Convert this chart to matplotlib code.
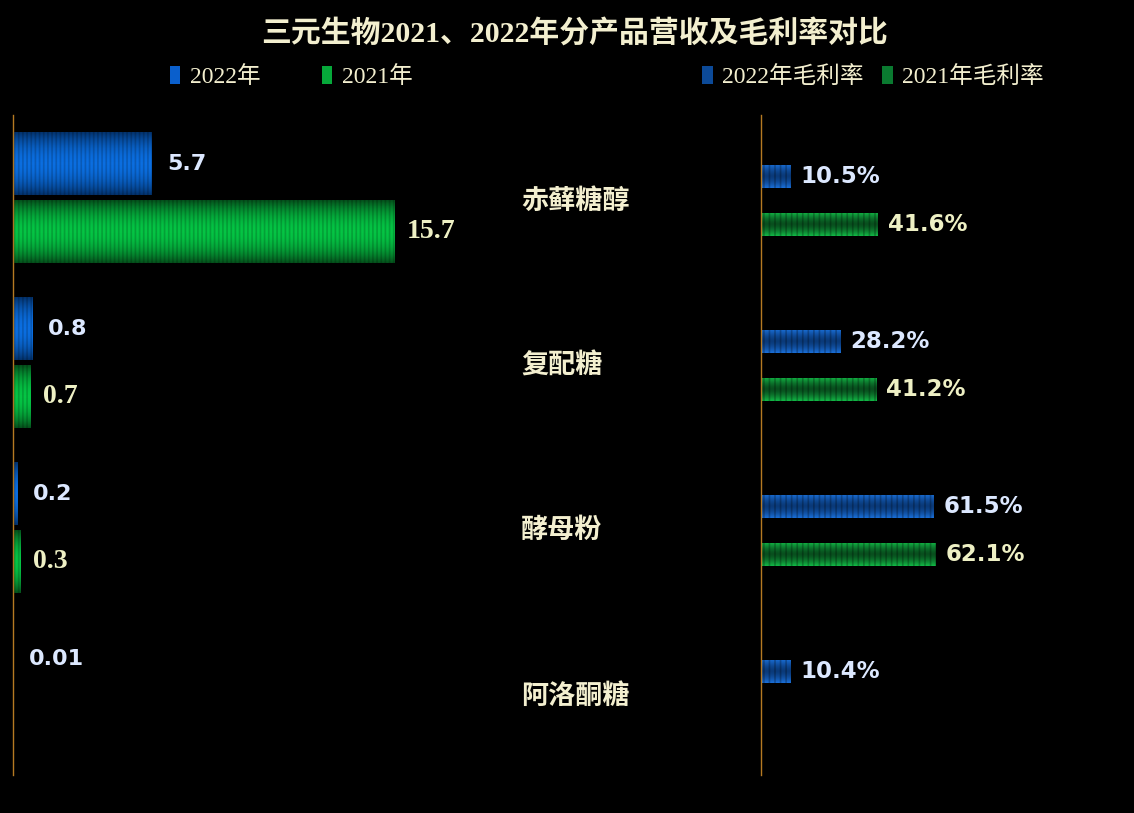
import numpy as np
import matplotlib
matplotlib.use("Agg")
import matplotlib.pyplot as plt
import matplotlib.transforms as mtransforms
from matplotlib.patches import Patch
from matplotlib.colors import LinearSegmentedColormap

# data
products = ["赤藓糖醇", "复配糖", "酵母粉", "阿洛酮糖"]
revenue_2022 = [5.7, 0.8, 0.2, 0.01]
revenue_2021 = [15.7, 0.7, 0.3, np.nan]
margin_2022 = [10.5, 28.2, 61.5, 10.4]
margin_2021 = [41.6, 41.2, 62.1, np.nan]

SERIF = ["Liberation Serif", "Noto Sans CJK SC", "DejaVu Sans"]
SANS = ["DejaVu Sans", "Noto Sans CJK SC"]
CREAM = "#f3efcf"
LABEL_BLUE = "#dce8ff"
LABEL_YELLOW = "#eef0c4"
AXIS_LINE = "#b57a22"

W, H = 1134, 813
fig = plt.figure(figsize=(W / 100, H / 100), dpi=100, facecolor="black")

ax_l = fig.add_axes([13 / W, 38 / H, 480 / W, 660 / H], facecolor="black")
ax_r = fig.add_axes([761 / W, 38 / H, 373 / W, 660 / H], facecolor="black")

y = np.arange(len(products))


def shade(ax, bars, edge, mid, bright_mid=True):
    # vertical gradient inside each bar, clipped to the bar
    cmap = LinearSegmentedColormap.from_list("g", [edge, mid])
    prof = np.abs(np.linspace(-1, 1, 64))
    prof = 1 - prof ** 2 if bright_mid else prof ** 1.5
    img = prof.reshape(-1, 1)
    for b in bars:
        w = b.get_width()
        if not np.isfinite(w) or w <= 0:
            continue
        x0, y0, h = b.get_x(), b.get_y(), b.get_height()
        im = ax.imshow(img, cmap=cmap, vmin=0, vmax=1, aspect="auto",
                       extent=(x0, x0 + w, y0 + h, y0), zorder=2,
                       interpolation="bilinear")
        im.set_clip_path(b)


def style(ax, xmax):
    ax.set_xlim(0, xmax)
    ax.set_ylim(len(products) - 0.5, -0.5)
    for s in ["top", "right", "bottom"]:
        ax.spines[s].set_visible(False)
    ax.spines["left"].set_color(AXIS_LINE)
    ax.spines["left"].set_linewidth(1.0)
    ax.set_xticks([])
    ax.set_yticks([])


# left: revenue
bh = 0.38
b22 = ax_l.barh(y - 0.205, revenue_2022, height=bh, color="#0a5fcc", zorder=1)
b21 = ax_l.barh(y + 0.205, revenue_2021, height=bh, color="#06a83a", zorder=1)
shade(ax_l, b22, "#03336e", "#0b6ee0")
shade(ax_l, b21, "#04521c", "#05c444")
plt.rcParams["hatch.linewidth"] = 1.2
ax_l.barh(y - 0.205, revenue_2022, height=bh, fill=False, hatch="||||",
          edgecolor=(0, 0, 0, 0.18), linewidth=0, zorder=3)
ax_l.barh(y + 0.205, revenue_2021, height=bh, fill=False, hatch="||||",
          edgecolor=(0, 0, 0, 0.18), linewidth=0, zorder=3)

lab22 = [f"{v:g}" for v in revenue_2022]
lab21 = ["" if np.isnan(v) else f"{v:g}" for v in revenue_2021]
t22 = ax_l.bar_label(b22, labels=lab22, padding=11, color=LABEL_BLUE, fontsize=16,
                     fontweight="bold", family=SANS)
t21 = ax_l.bar_label(b21, labels=lab21, padding=9, color=LABEL_YELLOW, fontsize=20,
                     fontweight="bold", family=SERIF)
style(ax_l, 480 / 24.3)

# right: gross margin
rh = 0.14
r22 = ax_r.barh(y - 0.127, margin_2022, height=rh, color="#0c4a98", zorder=1)
r21 = ax_r.barh(y + 0.164, margin_2021, height=rh, color="#0a7a30", zorder=1)
shade(ax_r, r22, "#0a3a7a", "#1a6fd8", bright_mid=False)
shade(ax_r, r21, "#08501e", "#12b846", bright_mid=False)
ax_r.barh(y - 0.127, margin_2022, height=rh, fill=False, hatch="|||",
          edgecolor=(0, 0, 0, 0.25), linewidth=0, zorder=3)
ax_r.barh(y + 0.164, margin_2021, height=rh, fill=False, hatch="|||",
          edgecolor=(0, 0, 0, 0.25), linewidth=0, zorder=3)

mlab22 = [f"{v:.1f}%" for v in margin_2022]
mlab21 = ["" if np.isnan(v) else f"{v:.1f}%" for v in margin_2021]
ax_r.bar_label(r22, labels=mlab22, padding=7, color=LABEL_BLUE, fontsize=16.5,
               fontweight="bold", family=SANS)
ax_r.bar_label(r21, labels=mlab21, padding=7, color=LABEL_YELLOW, fontsize=16.5,
               fontweight="bold", family=SANS)
style(ax_r, 373 / 2.81)

# category names between the two panels
tr = mtransforms.blended_transform_factory(fig.transFigure, ax_l.transData)
tr = mtransforms.offset_copy(tr, fig=fig, y=-3, units="points")
for i, name in enumerate(products):
    fig.text(521 / W, i, name, transform=tr, ha="left", va="center",
             fontsize=19.5, color=CREAM, family=SERIF, fontweight="bold")

# title
fig.text(575 / W, 1 - 33 / H, "三元生物2021、2022年分产品营收及毛利率对比",
         ha="center", va="center", fontsize=21.5, fontweight="bold",
         color=CREAM, family=SERIF)

# legends
leg_kw = dict(frameon=False, ncol=2, loc="center", handlelength=0.45,
              handleheight=0.8, handletextpad=0.4,
              prop={"family": SERIF, "size": 17}, labelcolor=CREAM)
fig.legend(handles=[Patch(facecolor="#0a5fcc", label="2022年"),
                    Patch(facecolor="#06a83a", label="2021年")],
           bbox_to_anchor=(291 / W, 1 - 77 / H), columnspacing=2.6, **leg_kw)
fig.legend(handles=[Patch(facecolor="#0c4a98", label="2022年毛利率"),
                    Patch(facecolor="#0a7a30", label="2021年毛利率")],
           bbox_to_anchor=(873 / W, 1 - 77 / H), columnspacing=0.8, **leg_kw)

fig.savefig("out.png", dpi=100, facecolor="black")
